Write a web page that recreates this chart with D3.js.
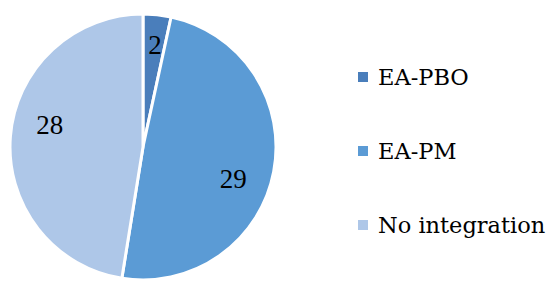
<!DOCTYPE html>
<html>
<head>
<meta charset="utf-8">
<script src="https://cdn.jsdelivr.net/npm/d3@7"></script>
<style>
  body { margin: 0; background: #fff; }
</style>
</head>
<body>
<div id="chart"></div>
<script>
const categories = ["EA-PBO", "EA-PM", "No integration"];
const values = [2, 29, 28];
const colors = ["#4a7ebb", "#5b9bd5", "#aec7e8"];

const width = 550, height = 291;
const cx = 143, cy = 147, radius = 133;

const svg = d3.select("#chart").append("svg")
    .attr("width", width)
    .attr("height", height);

const data = categories.map((c, i) => ({ name: c, value: values[i] }));

const pie = d3.pie()
    .value(d => d.value)
    .sort(null);

const arc = d3.arc().innerRadius(0).outerRadius(radius);
const labelR = radius * 0.72;

const color = d3.scaleOrdinal().domain(categories).range(colors);

const g = svg.append("g").attr("transform", `translate(${cx},${cy})`);

const arcs = pie(data);

g.selectAll("path")
    .data(arcs)
    .enter()
    .append("path")
    .attr("d", arc)
    .attr("fill", d => color(d.data.name))
    .attr("stroke", "#fff")
    .attr("stroke-width", 3);

// labels sit a little clockwise of the slice middle, like the original
function labelPos(d) {
    const span = d.endAngle - d.startAngle;
    const a = (d.startAngle + d.endAngle) / 2 + Math.min(0.17, span * 0.05);
    const r = span < 0.5 ? radius * 0.77 : labelR;
    return [Math.sin(a) * r, -Math.cos(a) * r];
}

g.selectAll("text")
    .data(arcs)
    .enter()
    .append("text")
    .attr("transform", d => `translate(${labelPos(d)})`)
    .attr("text-anchor", "middle")
    .attr("dy", "0.33em")
    .style("font-family", "'Liberation Serif', 'Times New Roman', serif")
    .style("font-size", "27px")
    .style("fill", "#000")
    .text(d => d.data.value);

// legend
const legendY = d3.scalePoint().domain(categories).range([77, 225]);

const legend = svg.append("g").selectAll("g")
    .data(categories)
    .enter()
    .append("g")
    .attr("transform", d => `translate(358,${legendY(d)})`);

legend.append("rect")
    .attr("x", 0)
    .attr("y", -5)
    .attr("width", 10)
    .attr("height", 10)
    .attr("fill", d => color(d));

legend.append("text")
    .attr("x", 20)
    .attr("y", 0)
    .attr("dy", "0.36em")
    .style("font-family", "'DejaVu Serif', serif")
    .style("font-size", "22.5px")
    .style("fill", "#000")
    .text(d => d);
</script>
</body>
</html>
